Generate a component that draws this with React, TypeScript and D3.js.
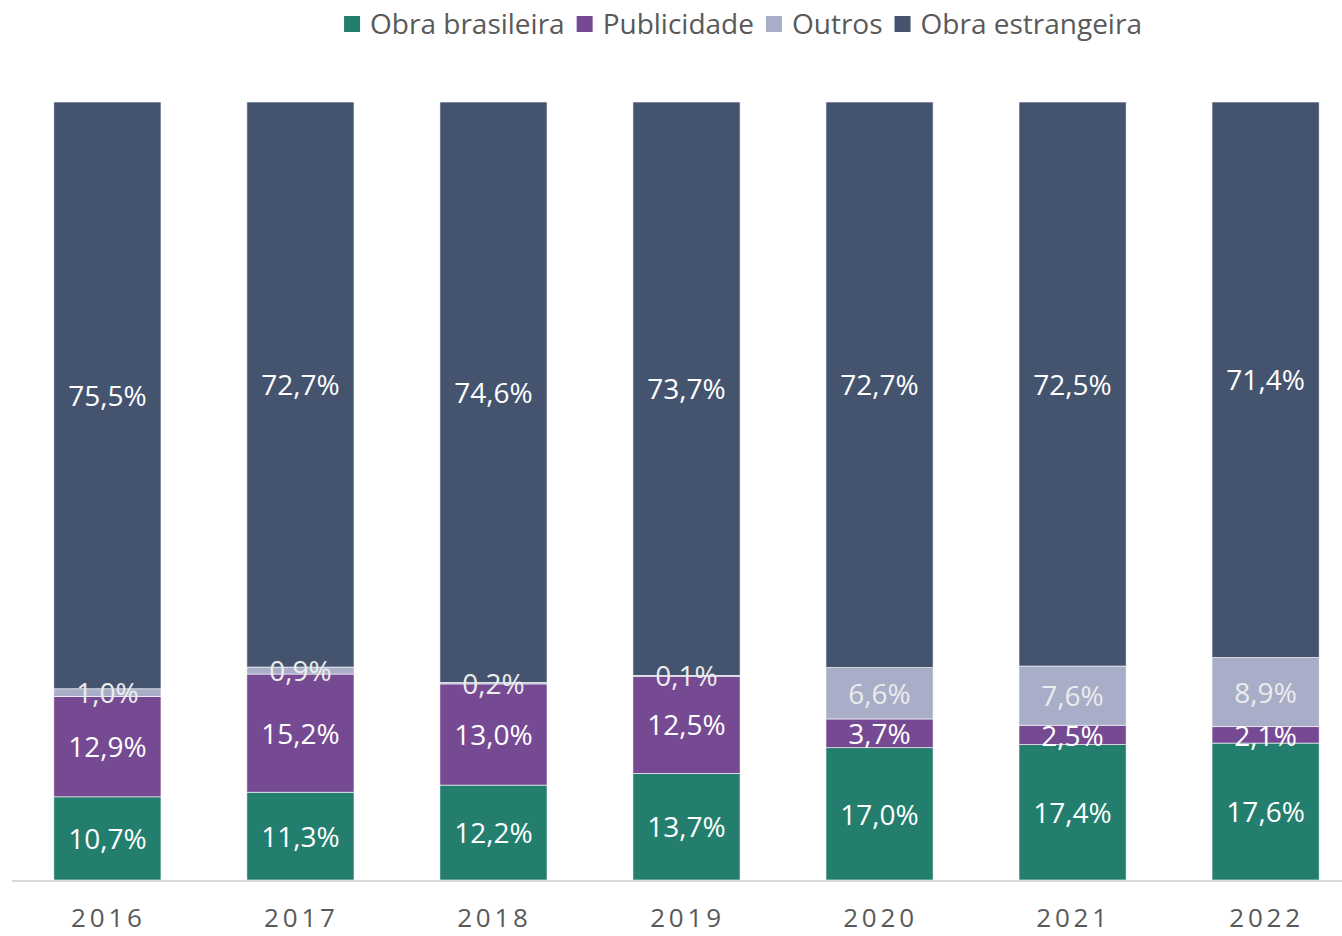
import React, { useEffect, useRef } from "react";
import * as d3 from "d3";

const years = ["2016", "2017", "2018", "2019", "2020", "2021", "2022"];
const obraBrasileira = [10.7, 11.3, 12.2, 13.7, 17.0, 17.4, 17.6];
const publicidade = [12.9, 15.2, 13.0, 12.5, 3.7, 2.5, 2.1];
const outros = [1.0, 0.9, 0.2, 0.1, 6.6, 7.6, 8.9];
const obraEstrangeira = [75.5, 72.7, 74.6, 73.7, 72.7, 72.5, 71.4];

const seriesNames = ["Obra brasileira", "Publicidade", "Outros", "Obra estrangeira"];
const seriesColors = ["#237E6D", "#764A92", "#A8ADC8", "#44546F"];
const labelColors = ["#FFFFFF", "#FFFFFF", "#ECECEC", "#FFFFFF"];

const W = 1342;
const H = 936;
const FONT = "'Open Sans', sans-serif";

export default function App() {
  const ref = useRef<SVGSVGElement | null>(null);

  useEffect(() => {
    const svg = d3.select(ref.current);
    svg.selectAll("*").remove();

    const rows = years.map((y, i) => {
      const vals = [obraBrasileira[i], publicidade[i], outros[i], obraEstrangeira[i]];
      const total = d3.sum(vals);
      return { year: y, vals, total };
    });

    const x = d3.scaleBand<string>().domain(years).range([11, 1362]).paddingInner(0.445).paddingOuter(0.222);
    const y = d3.scaleLinear().domain([0, 1]).range([880, 102]);

    const g = svg.append("g");

    rows.forEach((r) => {
      let acc = 0;
      r.vals.forEach((v, k) => {
        const y0 = acc / r.total;
        acc += v;
        const y1 = acc / r.total;
        g.append("rect")
          .attr("x", x(r.year)!)
          .attr("width", x.bandwidth())
          .attr("y", y(y1))
          .attr("height", y(y0) - y(y1))
          .attr("fill", seriesColors[k])
          .attr("stroke", "#ffffff")
          .attr("stroke-width", 0.6);
      });
    });

    // axis line
    g.append("line")
      .attr("x1", 12)
      .attr("x2", W)
      .attr("y1", y(0) + 1)
      .attr("y2", y(0) + 1)
      .attr("stroke", "#D9D9D9")
      .attr("stroke-width", 2);

    // data labels
    rows.forEach((r) => {
      let acc = 0;
      r.vals.forEach((v, k) => {
        const y0 = acc / r.total;
        acc += v;
        const y1 = acc / r.total;
        g.append("text")
          .attr("x", x(r.year)! + x.bandwidth() / 2)
          .attr("y", (y(y0) + y(y1)) / 2)
          .attr("dy", "0.38em")
          .attr("text-anchor", "middle")
          .attr("font-family", FONT)
          .attr("font-size", 28)
          .attr("fill", labelColors[k])
          .text(d3.format(".1f")(v).replace(".", ",") + "%");
      });
    });

    // x tick labels
    years.forEach((yr) => {
      g.append("text")
        .attr("x", x(yr)! + x.bandwidth() / 2 + 1)
        .attr("y", 918)
        .attr("dy", "0.36em")
        .attr("text-anchor", "middle")
        .attr("font-family", FONT)
        .attr("font-size", 26)
        .attr("letter-spacing", 3.8)
        .attr("fill", "#595959")
        .text(yr);
    });

    // legend
    const lg = svg.append("g");
    const items = seriesNames.map((name, k) => {
      const it = lg.append("g");
      it.append("rect").attr("x", 0).attr("y", -8).attr("width", 16).attr("height", 16).attr("fill", seriesColors[k]);
      const t = it.append("text")
        .attr("x", 26)
        .attr("dy", "0.36em")
        .attr("font-family", FONT)
        .attr("font-size", 28)
        .attr("fill", "#595959")
        .text(name);
      const w = 26 + (t.node() as SVGTextElement).getComputedTextLength();
      return { it, w };
    });
    const gap = 12;
    const totalW = d3.sum(items, (d) => d.w) + gap * (items.length - 1);
    let cx = 743 - totalW / 2;
    items.forEach((d) => {
      d.it.attr("transform", `translate(${cx},24)`);
      cx += d.w + gap;
    });
  }, []);

  return (
    <svg ref={ref} width={W} height={H} style={{ display: "block", position: "absolute", left: 0, top: 0, background: "#fff" }} />
  );
}
